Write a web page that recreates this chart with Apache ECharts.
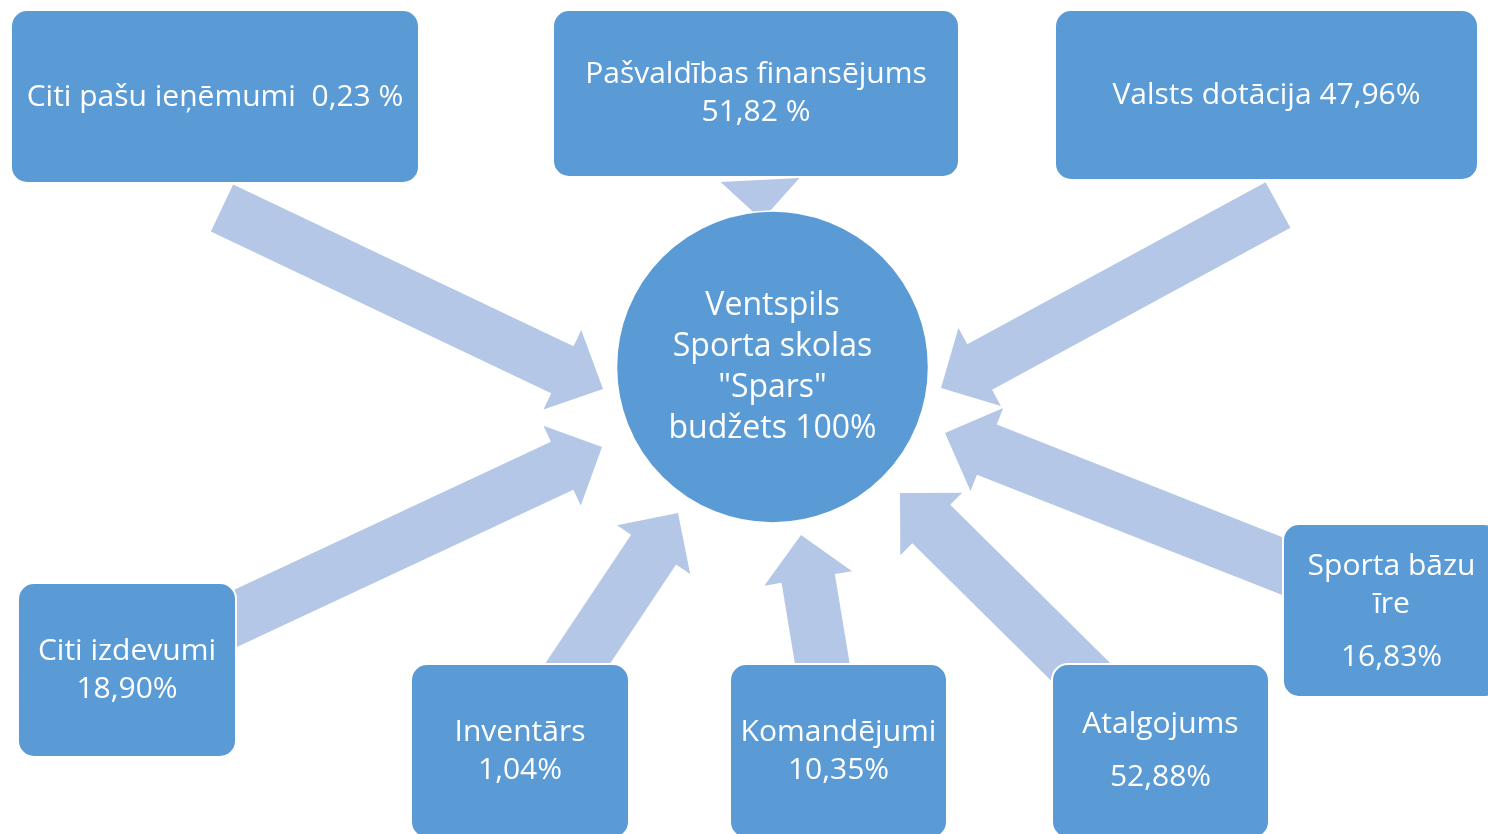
<!DOCTYPE html>
<html>
<head>
<meta charset="utf-8">
<script src="https://cdn.jsdelivr.net/npm/echarts@6/dist/echarts.min.js"></script>
<style>
  html, body { margin: 0; padding: 0; background: #fff; }
  #main { width: 1488px; height: 834px; }
</style>
</head>
<body>
<div id="main"></div>
<script>
// budget parts (names may wrap over several lines) and their shares
var centerName = ['Ventspils', 'Sporta skolas', '"Spars"', 'budžets'];
var centerValue = '100%';
var itemNames = [
  ['Citi pašu ieņēmumi'],
  ['Pašvaldības finansējums'],
  ['Valsts dotācija'],
  ['Citi izdevumi'],
  ['Inventārs'],
  ['Komandējumi'],
  ['Atalgojums'],
  ['Sporta bāzu', 'īre']
];
var itemValues = ['0,23 %', '51,82 %', '47,96%', '18,90%', '1,04%', '10,35%', '52,88%', '16,83%'];

// layout (pixel units of the hidden axes)
var joiner = ['  ', '\n', ' ', '\n', '\n', '\n', '\n', '\n'];
var valueGap = [false, false, false, false, false, false, true, true];
var boxRect = [
  [11, 10, 408, 173], [553, 10, 406, 167], [1055, 10, 423, 170],
  [18, 583, 218, 174], [411, 664, 218, 174], [730, 664, 217, 174],
  [1052, 664, 217, 174], [1283, 524, 217, 173]
];
var textY = [97, 93, 95, 670, 751, 751, 758, 619];
// tail x, tail y, tip x, tip y (lower tails start behind their boxes)
var arrows = [
  [222, 208, 603, 389], [760, 180, 762, 220], [1278, 205, 941, 388],
  [200, 635, 602, 447], [562, 687, 678, 513], [827, 692, 801, 535],
  [1099, 690, 900, 493], [1310, 577, 945, 433]
];
// shaft width, head width, head length
var arrowSize = [
  [52, 88, 45], [0, 79, 40], [52, 89, 44], [53, 88, 44],
  [54, 88, 44], [54, 89, 44], [54, 88, 44], [54, 89, 45]
];
var circle = [[772.5, 367]];
var circleR = 156;

var FONT = '"Open Sans"';
var BOX = '#5B9BD5';
var ARROW = '#B4C7E7';

var chartDom = document.getElementById('main');
var myChart = echarts.init(chartDom);
var option;

function renderArrow(params, api) {
  var a = api.coord([api.value(0), api.value(1)]);
  var b = api.coord([api.value(2), api.value(3)]);
  var s = arrowSize[params.dataIndex];
  var dx = b[0] - a[0], dy = b[1] - a[1];
  var len = Math.sqrt(dx * dx + dy * dy);
  var ux = dx / len, uy = dy / len;
  var nx = -uy, ny = ux;
  var bx = b[0] - ux * s[2], by = b[1] - uy * s[2];
  var pts = [
    [a[0] + nx * s[0] / 2, a[1] + ny * s[0] / 2],
    [bx + nx * s[0] / 2, by + ny * s[0] / 2],
    [bx + nx * s[1] / 2, by + ny * s[1] / 2],
    [b[0], b[1]],
    [bx - nx * s[1] / 2, by - ny * s[1] / 2],
    [bx - nx * s[0] / 2, by - ny * s[0] / 2],
    [a[0] - nx * s[0] / 2, a[1] - ny * s[0] / 2]
  ];
  return { type: 'polygon', shape: { points: pts }, style: { fill: ARROW } };
}

function boxText(i) {
  var t = itemNames[i].join('\n') + joiner[i];
  if (valueGap[i]) return t + '{v|' + itemValues[i] + '}';
  return t + itemValues[i];
}

function renderBox(params, api) {
  var i = params.dataIndex;
  var p0 = api.coord([api.value(0), api.value(1)]);
  var p1 = api.coord([api.value(0) + api.value(2), api.value(1) + api.value(3)]);
  var ty = api.coord([0, textY[i]])[1];
  return {
    type: 'group',
    children: [
      {
        type: 'rect',
        shape: { x: p0[0], y: p0[1], width: p1[0] - p0[0], height: p1[1] - p0[1], r: 16 },
        style: { fill: BOX, stroke: '#fff', lineWidth: 2 }
      },
      {
        type: 'text',
        style: {
          text: boxText(i),
          x: (p0[0] + p1[0]) / 2,
          y: ty,
          align: 'center',
          verticalAlign: 'middle',
          fill: '#fff',
          fontFamily: FONT,
          fontSize: 30,
          lineHeight: 38,
          rich: {
            v: { fill: '#fff', fontFamily: FONT, fontSize: 30, lineHeight: 68 }
          }
        }
      }
    ]
  };
}

function renderCircle(params, api) {
  var c = api.coord([api.value(0), api.value(1)]);
  var r = api.size([circleR, 0])[0];
  return {
    type: 'group',
    children: [
      {
        type: 'circle',
        shape: { cx: c[0], cy: c[1], r: r },
        style: { fill: BOX, stroke: '#fff', lineWidth: 1.5 }
      },
      {
        type: 'text',
        style: {
          text: centerName.slice(0, 3).join('\n') + '\n' + centerName[3] + ' ' + centerValue,
          x: c[0],
          y: c[1],
          align: 'center',
          verticalAlign: 'middle',
          fill: '#fff',
          fontFamily: FONT,
          fontSize: 32,
          lineHeight: 41
        }
      }
    ]
  };
}

option = {
  animation: false,
  grid: { left: 0, right: 0, top: 0, bottom: 0 },
  xAxis: { type: 'value', min: 0, max: 1488, show: false },
  yAxis: { type: 'value', min: 0, max: 834, inverse: true, show: false },
  series: [
    {
      type: 'custom',
      name: 'arrows',
      renderItem: renderArrow,
      encode: { x: [0, 2], y: [1, 3] },
      data: arrows,
      clip: false,
      z: 1
    },
    {
      type: 'custom',
      name: 'parts',
      renderItem: renderBox,
      encode: { x: 0, y: 1 },
      data: boxRect,
      clip: false,
      z: 2
    },
    {
      type: 'custom',
      name: 'budget',
      renderItem: renderCircle,
      encode: { x: 0, y: 1 },
      data: circle,
      clip: false,
      z: 3
    }
  ]
};

option && myChart.setOption(option);
</script>
</body>
</html>
